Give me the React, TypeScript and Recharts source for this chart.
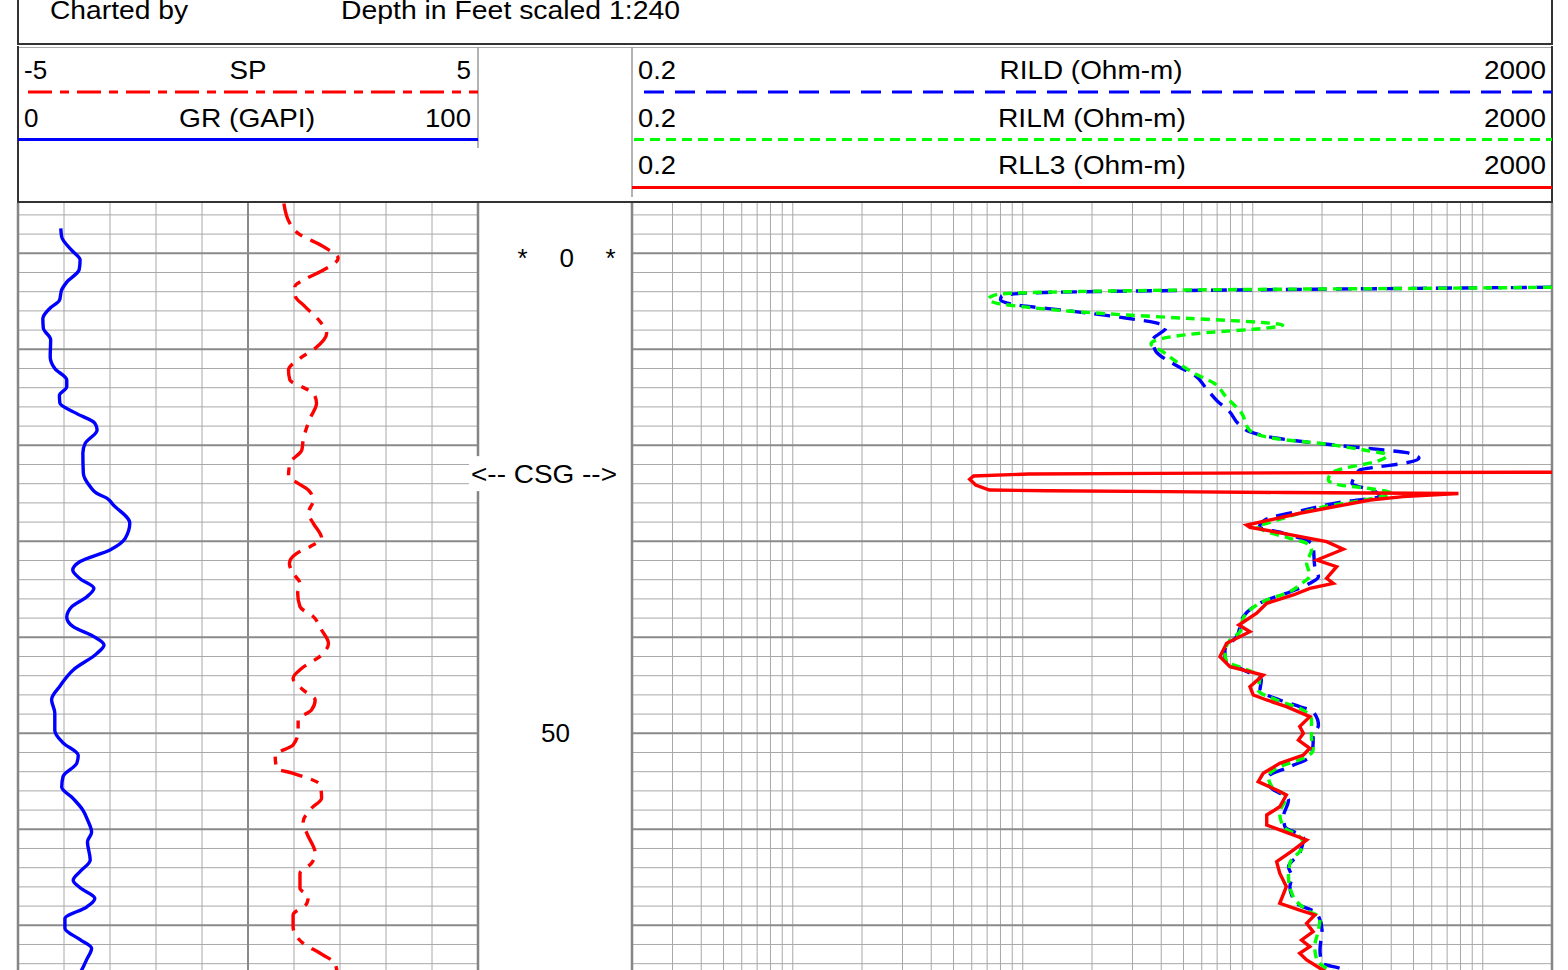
import React from 'react';
import { LineChart, Line, XAxis, YAxis, ReferenceLine } from 'recharts';

const FONT = '"Liberation Sans", Arial, Helvetica, sans-serif';

// ---------- axes / grid values ----------
const depthDomain: [number, number] = [-5.24, 75.7];
const depthMinor = [-4, -2, 2, 4, 6, 8, 12, 14, 16, 18, 22, 24, 26, 28, 32, 34, 36, 38, 42, 44, 46, 48, 52, 54, 56, 58, 62, 64, 66, 68, 72, 74];
const depthMajor = [0, 10, 20, 30, 40, 50, 60, 70];
const depthLabels = [0, 50];
const casingDepth = 22.9;

const grRange: [number, number] = [0, 100];
const spRange: [number, number] = [-5, 5];
const grGrid = [10, 20, 30, 40, 60, 70, 80, 90];
const grCenter = [50];
const grBorders = [0, 100];

const resRange: [number, number] = [0.2, 2000];
const resGrid = [0.3, 0.4, 0.5, 0.6, 0.7, 0.8, 0.9, 1, 2, 3, 4, 5, 6, 7, 8, 9, 10, 20, 30, 40, 50, 60, 70, 80, 90, 100, 200, 300, 400, 500, 600, 700, 800, 900, 1000];
const resBorders = [0.2, 2000];

// ---------- curves: [depth ft, value] ----------
const grLog: [number, number][] = [
  [-2.6, 9.3], [-1.7, 9.5], [-0.3, 11.7], [0.7, 13.5], [1.7, 13.3], [3.0, 10.6], [3.8, 9.5], [4.9, 9.0],
  [5.7, 7.0], [6.8, 5.4], [7.8, 5.5], [9.0, 7.1], [10.8, 7.0], [12.0, 8.0], [13.2, 10.6], [13.9, 10.6],
  [14.8, 9.0], [15.6, 9.1], [16.7, 12.8], [17.7, 16.7], [18.4, 17.2], [19.8, 14.6], [20.8, 14.1], [22.9, 14.2],
  [24.3, 15.7], [25.0, 17.1], [25.5, 19.3], [26.2, 20.7], [28.1, 24.3], [29.7, 23.3], [30.9, 20.0], [32.1, 13.5],
  [33.0, 11.9], [33.9, 13.5], [34.9, 16.5], [35.8, 14.9], [36.8, 11.7], [37.9, 10.6], [38.9, 12.0], [39.9, 16.4],
  [40.8, 18.7], [41.7, 17.1], [43.4, 12.0], [45.1, 9.1], [46.5, 7.3], [47.9, 8.0], [49.7, 8.0], [51.0, 9.8],
  [52.3, 13.1], [53.1, 12.8], [54.5, 9.8], [55.6, 9.5], [56.8, 12.0], [58.0, 14.1], [59.0, 15.1], [60.3, 16.0],
  [61.3, 15.1], [63.2, 15.7], [64.4, 13.5], [65.3, 12.0], [66.1, 13.5], [67.2, 16.7], [68.1, 14.9], [69.3, 10.2],
  [70.3, 10.2], [71.5, 13.5], [72.4, 16.0], [73.6, 14.9], [74.7, 13.8], [75.7, 12.5],
];

const spLog: [number, number][] = [
  [-5.2, 0.78], [-3.13, 0.91], [-2.08, 1.09], [-0.69, 1.64], [0.52, 1.96], [1.74, 1.64], [2.6, 1.28], [3.48, 1.02],
  [4.34, 1.02], [5.56, 1.24], [7.13, 1.57], [8.33, 1.71], [9.9, 1.46], [10.94, 1.13], [12.16, 0.88], [13.2, 0.91],
  [13.9, 1.17], [14.58, 1.42], [15.63, 1.49], [17.19, 1.35], [19.45, 1.2], [20.49, 1.17], [21.88, 0.91], [23.27, 0.88],
  [23.97, 1.09], [24.66, 1.31], [25.7, 1.42], [27.08, 1.31], [28.13, 1.42], [29.69, 1.6], [30.56, 1.35], [31.25, 1.06],
  [32.29, 0.9], [33.33, 0.98], [34.38, 1.13], [35.42, 1.08], [36.81, 1.13], [37.85, 1.42], [39.24, 1.6], [40.63, 1.75],
  [41.84, 1.6], [43.23, 1.17], [44.27, 0.98], [45.49, 1.2], [46.53, 1.46], [47.57, 1.38], [48.61, 1.09], [49.83, 1.09],
  [51.22, 0.98], [52.26, 0.59], [53.65, 0.62], [54.17, 0.98], [55.39, 1.57], [56.77, 1.6], [57.81, 1.38], [59.21, 1.2],
  [60.42, 1.28], [62.5, 1.46], [63.54, 1.38], [64.58, 1.13], [66.15, 1.13], [67.02, 1.31], [67.71, 1.28], [68.93, 0.98],
  [70.15, 0.98], [71.88, 1.2], [72.92, 1.57], [73.96, 1.89], [74.66, 1.93], [75.7, 2.0],
];

const rildLog: [number, number][] = [
  [3.54, 2000], [3.65, 520], [3.8, 100], [3.98, 21], [4.15, 10.2], [4.45, 8.1], [4.85, 8.0], [5.3, 9.0],
  [5.98, 15.7], [6.77, 28.5], [7.23, 37.6], [7.71, 42], [9.03, 36.8], [10.07, 37.6], [11.81, 47.6], [12.68, 55.7],
  [14.06, 62.7], [15.46, 70.6], [16.32, 78], [18.06, 89.5], [18.58, 96.8], [19.27, 128], [19.86, 205], [20.49, 371],
  [20.77, 468], [21.35, 528], [21.88, 451], [22.23, 356], [22.57, 292], [23.44, 275], [23.96, 270], [24.83, 342],
  [25.35, 356], [25.88, 249], [26.74, 168], [27.78, 113], [28.5, 107], [29.14, 135], [30.39, 183], [32.65, 186],
  [33.69, 193], [34.38, 177], [35.28, 145], [36.11, 115], [37.85, 91], [39.94, 85], [41.32, 75.7], [42.36, 75.7],
  [43.4, 91], [44.44, 109], [45.49, 107.5], [46.53, 131], [47.23, 160], [47.75, 183], [49.14, 193], [50.35, 183],
  [51.04, 183], [52.44, 177], [53.48, 145], [54.52, 117], [55.56, 119], [56.95, 143], [58.69, 136], [59.73, 138],
  [60.84, 166], [62.5, 160], [63.9, 143], [64.94, 148], [65.98, 145], [67.71, 155], [68.75, 190], [70.49, 200],
  [72.57, 196], [73.96, 200], [74.48, 239], [75.7, 300],
];

const rilmLog: [number, number][] = [
  [3.54, 2000], [3.65, 550], [3.75, 113], [3.93, 23.4], [4.1, 10.6], [4.27, 7.74], [4.79, 7.08], [5.21, 7.74],
  [5.63, 10.6], [6.01, 15.7], [6.43, 28.5], [6.77, 51.5], [7.23, 113], [7.47, 135], [7.81, 113], [8.27, 62.7],
  [9.1, 37.6], [9.45, 36.1], [10.25, 40.6], [11.46, 47.6], [12.5, 55.7], [13.54, 67.9], [14.94, 76.4], [16.67, 89.5],
  [18.41, 96.8], [19.27, 123], [19.86, 205], [20.49, 304], [21.01, 385], [21.71, 342], [22.4, 250], [22.92, 218],
  [23.61, 213], [24.14, 240], [24.48, 316], [25.0, 401], [25.7, 304], [26.4, 205], [27.08, 160], [28.13, 115],
  [28.41, 104], [29.0, 115], [29.69, 145], [30.21, 171.5], [30.91, 180], [32.29, 171.5], [33.51, 177], [34.55, 160],
  [35.25, 145], [36.11, 115], [37.15, 97.2], [38.02, 90.9], [39.42, 88], [40.28, 79.6], [41.67, 75.7], [42.54, 77],
  [43.23, 90.9], [44.1, 107.5], [45.49, 105.6], [46.53, 127], [47.4, 160], [48.61, 180], [50.35, 180], [51.74, 183],
  [52.6, 166], [53.48, 131], [54.52, 117], [55.56, 121], [56.6, 140], [58.33, 131], [59.73, 136], [60.77, 160],
  [61.64, 166], [63.54, 145], [64.94, 143], [67.02, 150], [68.41, 171.5], [69.27, 196], [70.49, 193], [72.23, 186],
  [73.61, 190], [74.48, 209.5], [75.7, 280],
];

const rll3Log: [number, number][] = [
  [22.81, 2000], [22.85, 249.5], [22.92, 39.1], [22.99, 10.6], [23.2, 6.11], [23.54, 5.88], [24.14, 6.24], [24.66, 7.16],
  [24.73, 12.9], [24.83, 42.3], [24.92, 138], [25.02, 784], [25.35, 451], [25.7, 323.6], [27.08, 160], [27.85, 115],
  [28.3, 94], [28.54, 97.2], [29.17, 135.8], [30.04, 209.5], [30.83, 247.4], [31.95, 190], [32.65, 231.6], [33.85, 209.5],
  [34.38, 224], [34.9, 177], [35.59, 150], [36.46, 115], [37.5, 104], [38.72, 87], [39.42, 97.2], [40.63, 77],
  [42.02, 72], [43.06, 79.6], [43.93, 111], [45.15, 97.2], [46.01, 100.5], [46.53, 115], [47.23, 140], [48.27, 177],
  [49.31, 160], [50.0, 166], [50.7, 158], [51.56, 177], [52.26, 166], [53.13, 131], [54.17, 111], [55.04, 105.6],
  [55.91, 127], [56.43, 140], [57.65, 131], [58.51, 115], [59.55, 115], [60.07, 131], [61.11, 171.5], [62.16, 150],
  [63.38, 127], [64.58, 131], [65.98, 140], [67.71, 131], [68.41, 160], [68.93, 186], [69.79, 171.5], [70.67, 183],
  [71.53, 163], [72.23, 177], [72.92, 160], [73.61, 171.5], [74.48, 196], [75.7, 240],
];

const toRows = (pairs: [number, number][]) => pairs.map(([depth, v]) => ({ depth, v }));

const grRows = toRows(grLog);
const spRows = toRows(spLog);
const rildRows = toRows(rildLog);
const rilmRows = toRows(rilmLog);
const rll3Rows = toRows(rll3Log);

const MINOR = '#a8a8a8';
const MAJOR = '#8a8a8a';
const BORDER = '#858585';
const CHART_H = 777;
const CURVE_W = 3.4;

function Txt(p: { x: number; y: number; a?: 'start' | 'middle' | 'end'; len?: number; size?: number; children: React.ReactNode }) {
  return (
    <text
      x={p.x}
      y={p.y}
      textAnchor={p.a || 'start'}
      fontSize={p.size || 26}
      fontFamily={FONT}
      fill="#000"
      textLength={p.len}
      lengthAdjust={p.len ? 'spacingAndGlyphs' : undefined}
    >
      {p.children}
    </text>
  );
}

function Header() {
  return (
    <svg width={1568} height={206} style={{ position: 'absolute', left: 0, top: 0 }}>
      <line x1={18} y1={0} x2={18} y2={45} stroke="#333" strokeWidth={2} />
      <line x1={1552} y1={0} x2={1552} y2={45} stroke="#333" strokeWidth={2} />
      <line x1={17} y1={44} x2={1553} y2={44} stroke="#333" strokeWidth={2} />
      <Txt x={50} y={19} len={138}>Charted by</Txt>
      <Txt x={341} y={19} len={339}>Depth in Feet scaled 1:240</Txt>

      <line x1={18} y1={47.5} x2={1552} y2={47.5} stroke="#aaa" strokeWidth={1} />
      <line x1={18} y1={46} x2={18} y2={203} stroke="#333" strokeWidth={2} />
      <line x1={1552} y1={46} x2={1552} y2={203} stroke="#333" strokeWidth={2} />
      <line x1={17} y1={202} x2={1553} y2={202} stroke="#333" strokeWidth={2} />
      <line x1={478} y1={47} x2={478} y2={148} stroke="#999" strokeWidth={1.5} />
      <line x1={632} y1={47} x2={632} y2={197} stroke="#999" strokeWidth={1.5} />

      <Txt x={24} y={79}>-5</Txt>
      <Txt x={248} y={79} a="middle" len={37}>SP</Txt>
      <Txt x={471} y={79} a="end">5</Txt>
      <line x1={28} y1={92} x2={478} y2={92} stroke="#ff0000" strokeWidth={3} strokeDasharray="24 8 9 8" />
      <Txt x={24} y={127}>0</Txt>
      <Txt x={247} y={127} a="middle" len={136}>GR (GAPI)</Txt>
      <Txt x={471} y={127} a="end" len={46}>100</Txt>
      <line x1={18} y1={139.5} x2={478} y2={139.5} stroke="#0000ff" strokeWidth={3} />

      <Txt x={638} y={79} len={38}>0.2</Txt>
      <Txt x={1091} y={79} a="middle" len={183}>RILD (Ohm-m)</Txt>
      <Txt x={1546} y={79} a="end" len={62}>2000</Txt>
      <line x1={644} y1={92} x2={1552} y2={92} stroke="#0000ff" strokeWidth={3} strokeDasharray="20 11" />
      <Txt x={638} y={127} len={38}>0.2</Txt>
      <Txt x={1092} y={127} a="middle" len={188}>RILM (Ohm-m)</Txt>
      <Txt x={1546} y={127} a="end" len={62}>2000</Txt>
      <line x1={634} y1={139.5} x2={1552} y2={139.5} stroke="#00ff00" strokeWidth={3} strokeDasharray="10 6" />
      <Txt x={638} y={174} len={38}>0.2</Txt>
      <Txt x={1092} y={174} a="middle" len={188}>RLL3 (Ohm-m)</Txt>
      <Txt x={1546} y={174} a="end" len={62}>2000</Txt>
      <line x1={632} y1={187.5} x2={1552} y2={187.5} stroke="#ff0000" strokeWidth={3} />
    </svg>
  );
}

function depthGrid(xAxisId: string) {
  return [
    ...depthMinor.map((d) => (
      <ReferenceLine key={'dm' + d} xAxisId={xAxisId} y={d} stroke={MINOR} strokeWidth={1} />
    )),
    ...depthMajor.map((d) => (
      <ReferenceLine key={'dM' + d} xAxisId={xAxisId} y={d} stroke={MAJOR} strokeWidth={2} />
    )),
  ];
}

function Track1() {
  return (
    <div style={{ position: 'absolute', left: 16, top: 203 }}>
      <LineChart width={464} height={CHART_H} layout="vertical" margin={{ top: 0, right: 2, bottom: 0, left: 2 }}>
        <XAxis xAxisId="gr" type="number" domain={grRange} hide allowDataOverflow />
        <XAxis xAxisId="sp" type="number" domain={spRange} hide allowDataOverflow />
        <YAxis type="number" dataKey="depth" domain={depthDomain} hide allowDataOverflow />
        {grGrid.map((g) => (
          <ReferenceLine key={'g' + g} xAxisId="gr" x={g} stroke={MINOR} strokeWidth={1} />
        ))}
        {depthGrid('gr')}
        {grCenter.map((g) => (
          <ReferenceLine key={'gc' + g} xAxisId="gr" x={g} stroke={MAJOR} strokeWidth={2} />
        ))}
        {grBorders.map((g) => (
          <ReferenceLine key={'gb' + g} xAxisId="gr" x={g} stroke={BORDER} strokeWidth={2.5} />
        ))}
        <Line xAxisId="gr" data={grRows} dataKey="v" type="monotone" stroke="#0000ff" strokeWidth={CURVE_W} dot={false} activeDot={false} isAnimationActive={false} />
        <Line xAxisId="sp" data={spRows} dataKey="v" type="monotone" stroke="#ff0000" strokeWidth={CURVE_W} strokeDasharray="22 9 8 9" dot={false} activeDot={false} isAnimationActive={false} />
      </LineChart>
    </div>
  );
}

function Track2() {
  return (
    <div style={{ position: 'absolute', left: 630, top: 203 }}>
      <LineChart width={924} height={CHART_H} layout="vertical" margin={{ top: 0, right: 2, bottom: 0, left: 2 }}>
        <XAxis xAxisId="res" type="number" scale="log" domain={resRange} hide allowDataOverflow />
        <YAxis type="number" dataKey="depth" domain={depthDomain} hide allowDataOverflow />
        {resGrid.map((g) => (
          <ReferenceLine key={'r' + g} xAxisId="res" x={g} stroke={MINOR} strokeWidth={1} />
        ))}
        {depthGrid('res')}
        {resBorders.map((g) => (
          <ReferenceLine key={'rb' + g} xAxisId="res" x={g} stroke={BORDER} strokeWidth={2.5} />
        ))}
        <Line xAxisId="res" data={rildRows} dataKey="v" type="monotone" stroke="#0000ff" strokeWidth={CURVE_W} strokeDasharray="16 9" dot={false} activeDot={false} isAnimationActive={false} />
        <Line xAxisId="res" data={rilmRows} dataKey="v" type="monotone" stroke="#00ff00" strokeWidth={CURVE_W} strokeDasharray="9 6" dot={false} activeDot={false} isAnimationActive={false} />
        <Line xAxisId="res" data={rll3Rows} dataKey="v" type="linear" stroke="#ff0000" strokeWidth={CURVE_W} dot={false} activeDot={false} isAnimationActive={false} />
      </LineChart>
    </div>
  );
}

const DEPTH_LEFT = 460;

function DepthTick(props: any) {
  const { y, payload } = props;
  const v = payload && payload.value;
  const isTop = v === 0;
  const base = y + (isTop ? 13.5 : 9);
  return (
    <g>
      {isTop && <Txt x={522.5 - DEPTH_LEFT} y={base} a="middle">*</Txt>}
      <Txt x={(isTop ? 574 : 570) - DEPTH_LEFT} y={base} a="end">{String(v)}</Txt>
      {isTop && <Txt x={610.5 - DEPTH_LEFT} y={base} a="middle">*</Txt>}
    </g>
  );
}

function CsgLabel(props: any) {
  const vb = props.viewBox || { x: 0, y: 0, width: 0 };
  const cx = vb.x + vb.width / 2;
  const cy = vb.y;
  return (
    <g>
      <rect x={cx - 75} y={cy - 17} width={153} height={35} fill="#fff" />
      <Txt x={cx} y={cy + 9.5} a="middle" len={146}>{'<-- CSG -->'}</Txt>
    </g>
  );
}

const depthRows = depthLabels.map((d) => ({ depth: d, v: 0.5 }));

function DepthTrack() {
  return (
    <div style={{ position: 'absolute', left: DEPTH_LEFT, top: 203 }}>
      <LineChart width={168} height={CHART_H} layout="vertical" data={depthRows} margin={{ top: 0, right: 0, bottom: 0, left: 0 }}>
        <XAxis xAxisId="d" type="number" domain={[0, 1]} hide allowDataOverflow />
        <YAxis
          type="number"
          dataKey="depth"
          domain={depthDomain}
          allowDataOverflow
          ticks={depthLabels}
          interval={0}
          mirror
          axisLine={false}
          tickLine={false}
          tick={(p: any) => <DepthTick {...p} />}
          width={1}
        />
        <Line xAxisId="d" dataKey="v" stroke="none" dot={false} activeDot={false} isAnimationActive={false} />
        <ReferenceLine xAxisId="d" y={casingDepth} stroke="none" label={(p: any) => <CsgLabel {...p} />} />
      </LineChart>
    </div>
  );
}

export default function App() {
  return (
    <div
      style={{
        position: 'absolute',
        left: 0,
        top: 0,
        width: 1568,
        height: 970,
        overflow: 'hidden',
        background: '#fff',
        fontFamily: FONT,
      }}
    >
      <Header />
      <Track1 />
      <Track2 />
      <DepthTrack />
    </div>
  );
}
